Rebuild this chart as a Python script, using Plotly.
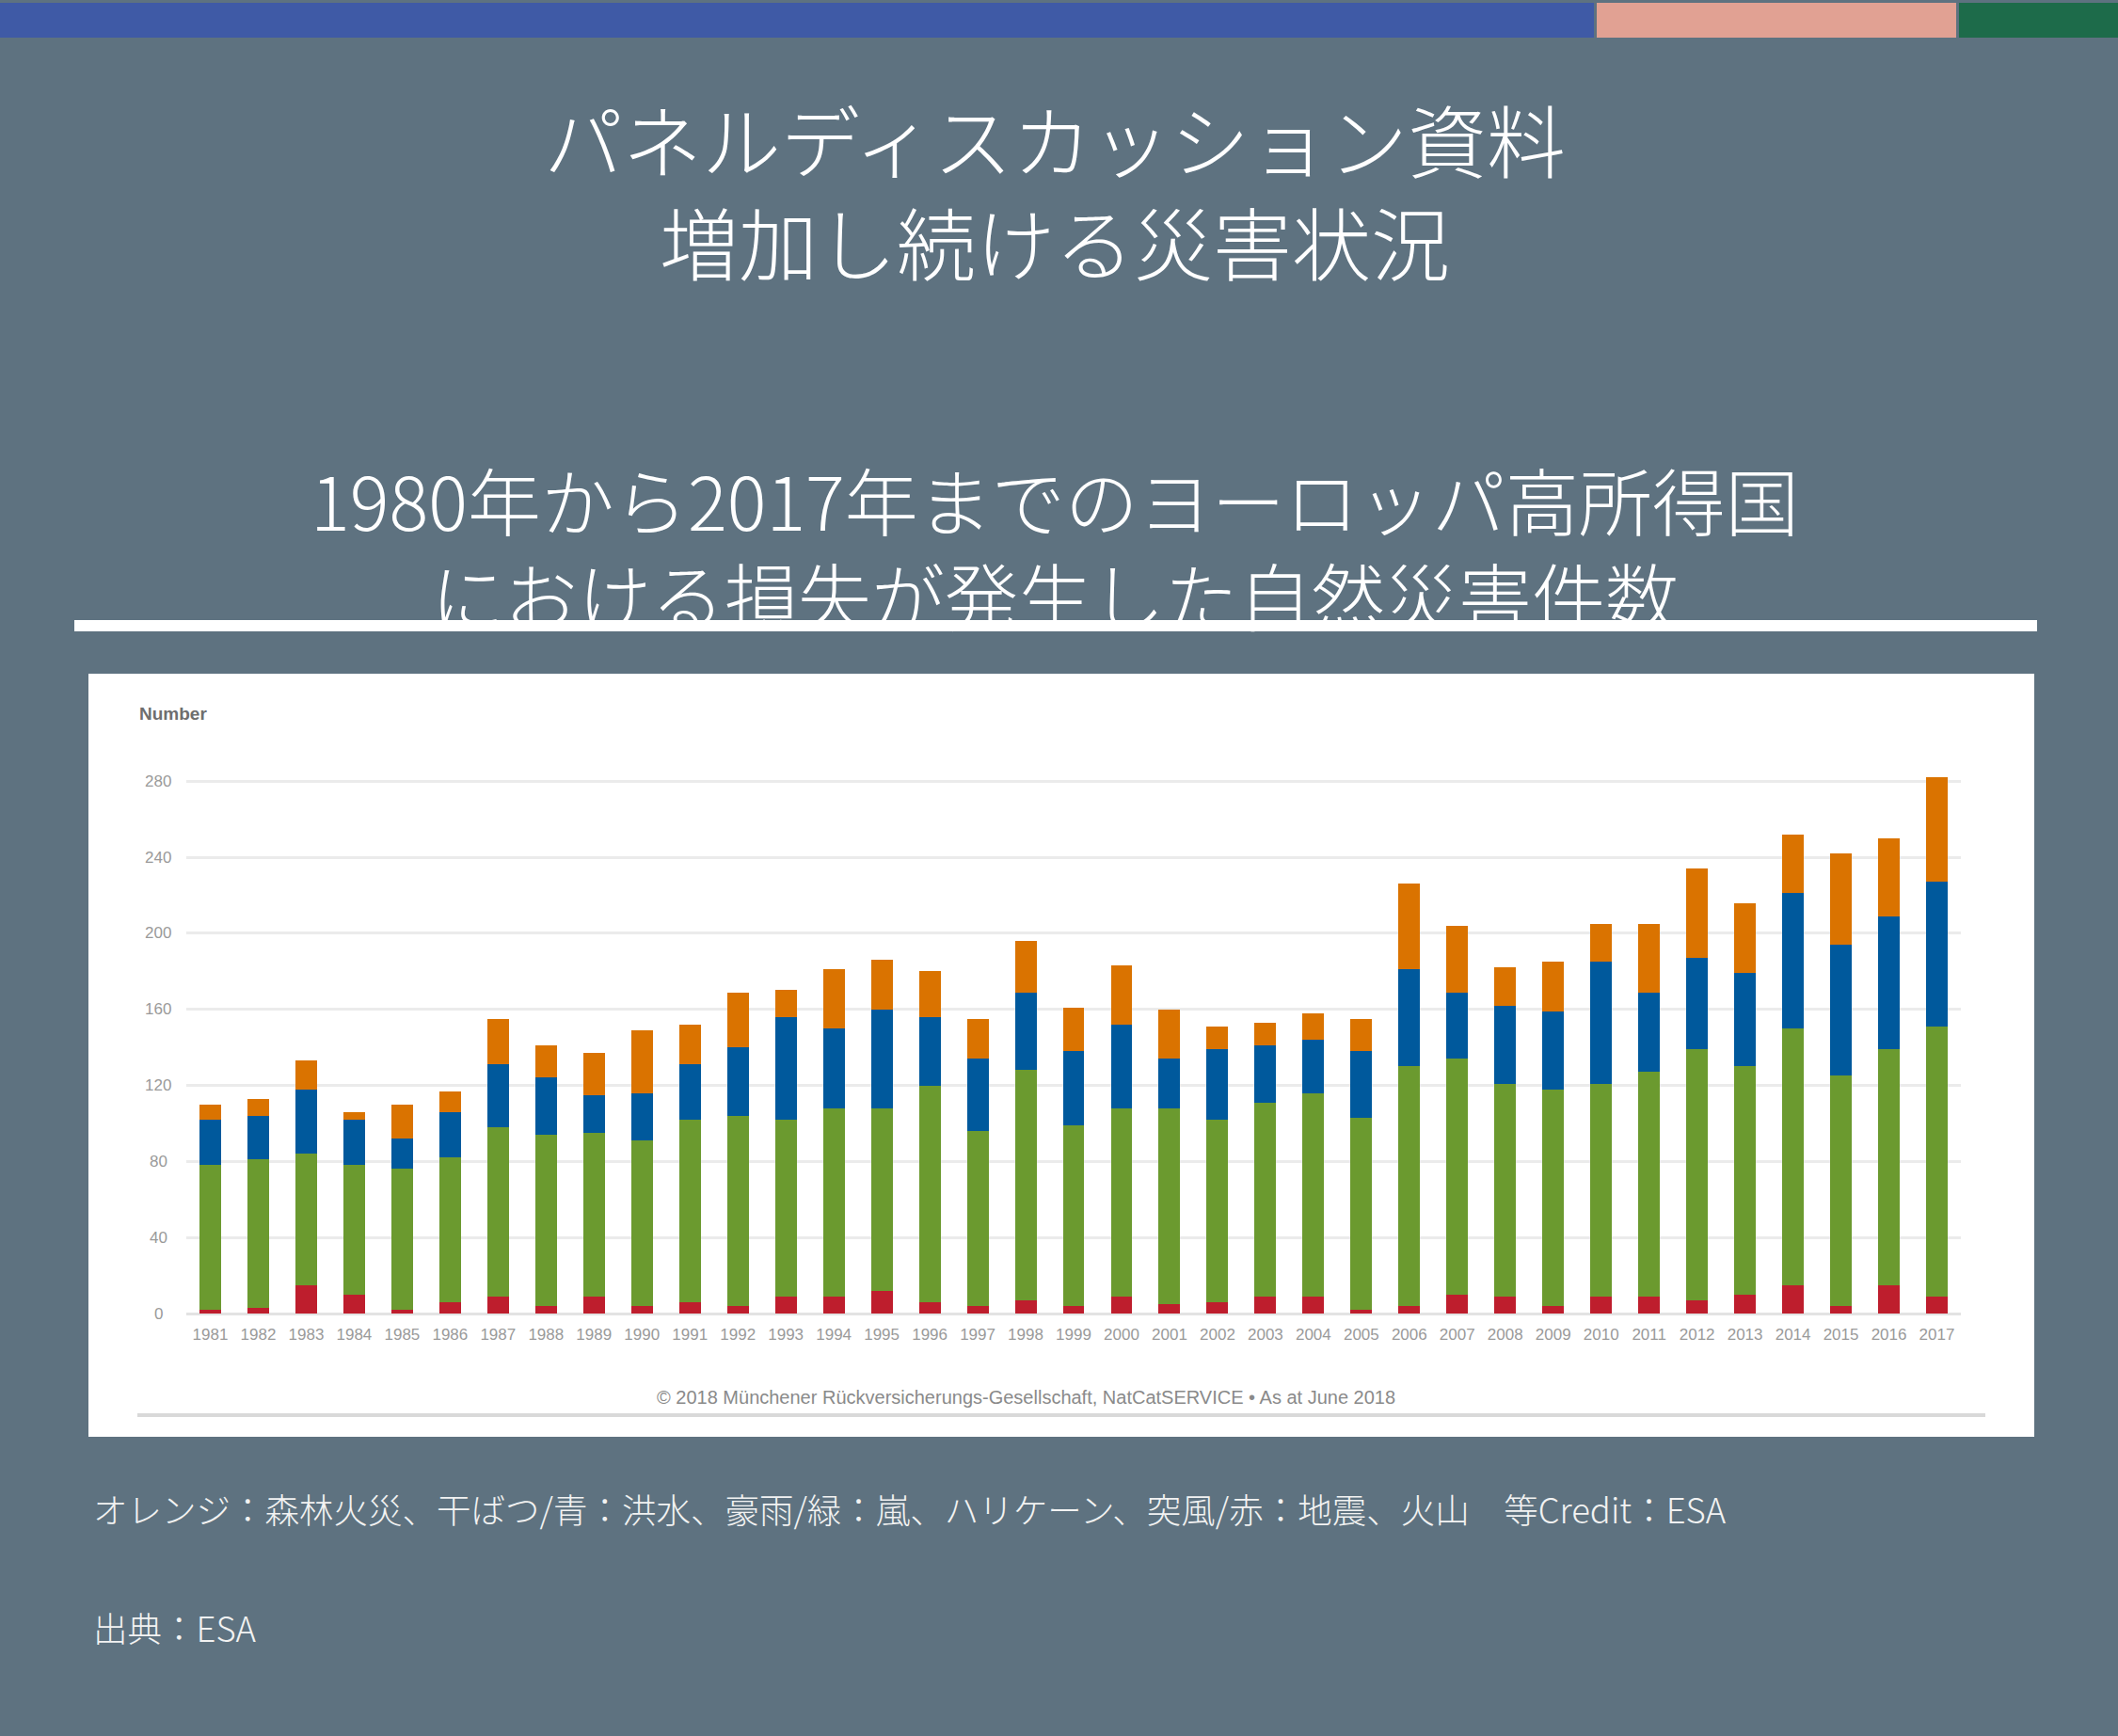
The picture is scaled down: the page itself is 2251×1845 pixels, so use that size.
import plotly.graph_objects as go

W, H = 2251, 1845

years = [str(y) for y in range(1981, 2018)]

# stacked values (cumulative tops converted to segment sizes below)
red_top = [2, 3, 15, 10, 2, 6, 9, 4, 9, 4, 6, 4, 9, 9, 12, 6, 4, 7, 4, 9,
           5, 6, 9, 9, 2, 4, 10, 9, 4, 9, 9, 7, 10, 15, 4, 15, 9]
green_top = [78, 81, 84, 78, 76, 82, 98, 94, 95, 91, 102, 104, 102, 108, 108, 120, 96, 128, 99, 108,
             108, 102, 111, 116, 103, 130, 134, 121, 118, 121, 127, 139, 130, 150, 125, 139, 151]
blue_top = [102, 104, 118, 102, 92, 106, 131, 124, 115, 116, 131, 140, 156, 150, 160, 156, 134, 169, 138, 152,
            134, 139, 141, 144, 138, 181, 169, 162, 159, 185, 169, 187, 179, 221, 194, 209, 227]
orange_top = [110, 113, 133, 106, 110, 117, 155, 141, 137, 149, 152, 169, 170, 181, 186, 180, 155, 196, 161, 183,
              160, 151, 153, 158, 155, 226, 204, 182, 185, 205, 205, 234, 216, 252, 242, 250, 282]

quake = red_top
storm = [g - r for g, r in zip(green_top, red_top)]
flood = [b - g for b, g in zip(blue_top, green_top)]
fire = [o - b for o, b in zip(orange_top, blue_top)]

y_ticks = [0, 40, 80, 120, 160, 200, 240, 280]

bg = "#5E7280"
cjk = "Noto Sans CJK JP"
tick_font = dict(family="Liberation Sans", size=17, color="#9a9a9a")


def fx(px):
    return px / W


def fy(py):
    return 1 - py / H


fig = go.Figure()
for vals, col in [(quake, "#BE1E2D"), (storm, "#6B9A2F"), (flood, "#00599C"), (fire, "#DA7300")]:
    fig.add_trace(go.Bar(
        x=years,
        y=vals,
        marker=dict(color=col, line=dict(width=0)),
        showlegend=False,
    ))

shapes = [
    # top colour strip
    dict(type="rect", xref="paper", yref="paper", x0=fx(0), x1=fx(1694), y0=fy(40), y1=fy(3),
         fillcolor="#3F5AA6", line=dict(width=0), layer="below"),
    dict(type="rect", xref="paper", yref="paper", x0=fx(1697), x1=fx(2079), y0=fy(40), y1=fy(3),
         fillcolor="#E1A193", line=dict(width=0), layer="below"),
    dict(type="rect", xref="paper", yref="paper", x0=fx(2082), x1=fx(2251), y0=fy(40), y1=fy(3),
         fillcolor="#1D6B4A", line=dict(width=0), layer="below"),
    # white divider under the subtitle
    dict(type="rect", xref="paper", yref="paper", x0=fx(79), x1=fx(2165), y0=fy(671), y1=fy(659),
         fillcolor="white", line=dict(width=0), layer="below"),
    # white chart panel
    dict(type="rect", xref="paper", yref="paper", x0=fx(94), x1=fx(2162), y0=fy(1527), y1=fy(716),
         fillcolor="white", line=dict(width=0), layer="below"),
    # grey rule under the copyright line
    dict(type="rect", xref="paper", yref="paper", x0=fx(146), x1=fx(2110), y0=fy(1506), y1=fy(1502),
         fillcolor="#D9D9D9", line=dict(width=0), layer="below"),
]

annotations = []
# two-line headings, one text block each
for text, yc, size in [("パネルディスカッション資料<br>増加し続ける災害状況", 201, 84),
                       ("1980年から2017年までのヨーロッパ高所得国<br>における損失が発生した自然災害件数", 581, 78)]:
    annotations.append(dict(text=text, x=fx(1121), y=fy(yc), xref="paper", yref="paper",
                            xanchor="center", yanchor="middle", align="center", showarrow=False,
                            font=dict(family=cjk, size=size, color="white", weight=300)))

# y tick labels are centred in the original, so they are drawn on the y scale here
for v in y_ticks:
    annotations.append(dict(text=str(v), x=fx(168), y=v, xref="paper", yref="y",
                            xanchor="center", yanchor="middle", showarrow=False,
                            font=tick_font))

annotations += [
    dict(text="<b>Number</b>", x=fx(146), y=fy(758), xref="paper", yref="paper",
         xanchor="left", yanchor="middle", showarrow=False,
         font=dict(family="Liberation Sans", size=19, color="#6e6e6e")),
    dict(text="© 2018 Münchener Rückversicherungs-Gesellschaft, NatCatSERVICE • As at June 2018",
         x=fx(1090), y=fy(1485), xref="paper", yref="paper",
         xanchor="center", yanchor="middle", showarrow=False,
         font=dict(family="Liberation Sans", size=20, color="#8a8a8a")),
    dict(text="オレンジ：森林火災、干ばつ/青：洪水、豪雨/緑：嵐、ハリケーン、突風/赤：地震、火山　等Credit：ESA",
         x=fx(97), y=fy(1603), xref="paper", yref="paper",
         xanchor="left", yanchor="middle", showarrow=False,
         font=dict(family=cjk, size=36.5, color="#F2F2F2", weight=300)),
    dict(text="出典：ESA", x=fx(97), y=fy(1729), xref="paper", yref="paper",
         xanchor="left", yanchor="middle", showarrow=False,
         font=dict(family=cjk, size=36.5, color="#F2F2F2", weight=300)),
]

fig.update_layout(
    autosize=False,
    width=W,
    height=H,
    margin=dict(l=0, r=0, t=0, b=0),
    paper_bgcolor=bg,
    plot_bgcolor="white",
    barmode="stack",
    bargap=0.55,
    showlegend=False,
    shapes=shapes,
    annotations=annotations,
    xaxis=dict(
        domain=[fx(198), fx(2084)],
        type="category",
        showgrid=False,
        zeroline=False,
        showline=False,
        ticks="",
        ticklabelstandoff=10,
        tickfont=tick_font,
    ),
    yaxis=dict(
        domain=[fy(1396), fy(810)],
        range=[0, 290],
        tickvals=y_ticks,
        showticklabels=False,
        showgrid=True,
        gridcolor="#EBEBEB",
        gridwidth=3,
        zeroline=True,
        zerolinecolor="#E3E3E3",
        zerolinewidth=3,
        showline=False,
        ticks="",
    ),
)

fig.write_html("out.html", config={"displayModeBar": False},
               post_script="document.body.style.margin='0';")
